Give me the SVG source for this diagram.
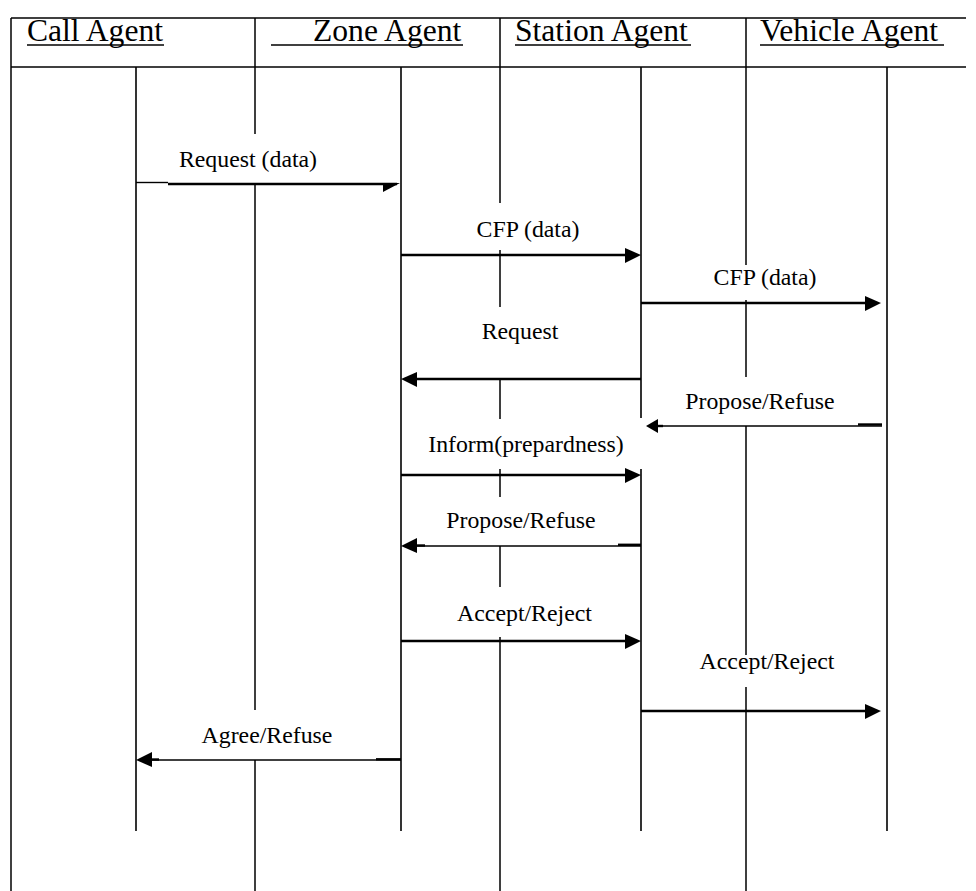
<svg xmlns="http://www.w3.org/2000/svg" width="976" height="891" viewBox="0 0 976 891">
<style>
 .frame{stroke:#000;stroke-width:1.5;fill:none}
 .life{stroke:#000;stroke-width:1.6;fill:none}
 .msg{stroke:#000;stroke-width:2.4;fill:none}
 .thin{stroke:#000;stroke-width:1.4;fill:none}
 .ul{stroke:#000;stroke-width:1.5;fill:none}
 .head{fill:#000;stroke:none}
 .hdr{font-family:"Liberation Serif","Times New Roman",serif;font-size:31.6px;fill:#000}
 .lbl{font-family:"Liberation Serif","Times New Roman",serif;font-size:23.8px;fill:#000;text-anchor:middle}
</style>
<rect width="976" height="891" fill="#fff"/>
<g id="table">
 <line class="frame" x1="11" y1="18" x2="966" y2="18"/>
 <line class="frame" x1="11" y1="67" x2="966" y2="67"/>
 <line class="frame" x1="11" y1="18" x2="11" y2="891"/>
 <path class="frame" d="M255,18V134M255,185V710M255,760V891"/>
 <path class="frame" d="M500,18V203M500,250V307M500,379V419M500,469V497M500,546V587M500,637V891"/>
 <path class="frame" d="M746,18V265M746,300V377M746,426V655M746,687V891"/>
</g>
<g id="call-agent">
 <text class="hdr" x="27" y="41">Call Agent</text>
 <line class="ul" x1="27" y1="45" x2="164" y2="45"/>
 <line class="life" x1="136" y1="67" x2="136" y2="831"/>
</g>
<g id="zone-agent">
 <text class="hdr" x="313" y="41">Zone Agent</text>
 <line class="ul" x1="271" y1="45" x2="463" y2="45"/>
 <line class="life" x1="401" y1="67" x2="401" y2="831"/>
</g>
<g id="station-agent">
 <text class="hdr" x="515" y="41">Station Agent</text>
 <line class="ul" x1="515" y1="45" x2="691" y2="45"/>
 <path class="life" d="M641,67V418M641,469V831"/>
</g>
<g id="vehicle-agent">
 <text class="hdr" x="760" y="41">Vehicle Agent</text>
 <line class="ul" x1="760" y1="45" x2="944" y2="45"/>
 <line class="life" x1="887" y1="67" x2="887" y2="831"/>
</g>
<g id="connectors">
 <!-- Request (data) -->
 <line class="thin" x1="136" y1="182.5" x2="168" y2="182.5"/>
 <line class="msg" x1="168" y1="184" x2="397" y2="184"/>
 <polygon class="head" points="383,183 400,183 383,192"/>
 <text class="lbl" x="248" y="167">Request (data)</text>
 <!-- CFP (data) zone->station -->
 <line class="msg" x1="401" y1="255" x2="628" y2="255"/>
 <polygon class="head" points="641,255 625,248 625,263"/>
 <text class="lbl" x="528" y="237">CFP (data)</text>
 <!-- CFP (data) station->vehicle -->
 <line class="msg" x1="641" y1="303" x2="868" y2="303"/>
 <polygon class="head" points="881,303 865,296 865,311"/>
 <text class="lbl" x="765" y="285">CFP (data)</text>
 <!-- Request station->zone -->
 <line class="msg" x1="641" y1="379" x2="414" y2="379"/>
 <polygon class="head" points="401,379 417,372 417,387"/>
 <text class="lbl" x="520" y="339">Request</text>
 <!-- Propose/Refuse vehicle->station -->
 <line class="thin" x1="882" y1="426" x2="656" y2="426"/>
 <line class="msg" x1="882" y1="424.5" x2="858" y2="424.5"/>
 <line class="msg" x1="655" y1="426" x2="663" y2="426"/>
 <polygon class="head" points="646,426 658,419 658,433"/>
 <text class="lbl" x="760" y="409">Propose/Refuse</text>
 <!-- Inform(prepardness) -->
 <line class="msg" x1="401" y1="475" x2="628" y2="475"/>
 <polygon class="head" points="641,475 625,468 625,483"/>
 <text class="lbl" x="526" y="452">Inform(prepardness)</text>
 <!-- Propose/Refuse station->zone -->
 <line class="thin" x1="641" y1="546" x2="414" y2="546"/>
 <line class="msg" x1="641" y1="544.8" x2="618" y2="544.8"/>
 <line class="msg" x1="414" y1="545.5" x2="425" y2="545.5"/>
 <polygon class="head" points="401,546 417,538 417,553"/>
 <text class="lbl" x="521" y="528">Propose/Refuse</text>
 <!-- Accept/Reject zone->station -->
 <line class="msg" x1="401" y1="641" x2="628" y2="641"/>
 <polygon class="head" points="641,641 625,634 625,649"/>
 <text class="lbl" x="524.5" y="621">Accept/Reject</text>
 <!-- Accept/Reject station->vehicle -->
 <line class="msg" x1="641" y1="711" x2="868" y2="711"/>
 <polygon class="head" points="881,711 865,704 865,719"/>
 <text class="lbl" x="767" y="669">Accept/Reject</text>
 <!-- Agree/Refuse zone->call -->
 <line class="thin" x1="401" y1="760" x2="150" y2="760"/>
 <line class="msg" x1="401" y1="759.3" x2="376" y2="759.3"/>
 <line class="msg" x1="150" y1="759.5" x2="159" y2="759.5"/>
 <polygon class="head" points="136,760 152,752 152,767"/>
 <text class="lbl" x="267" y="743">Agree/Refuse</text>
</g>
</svg>
